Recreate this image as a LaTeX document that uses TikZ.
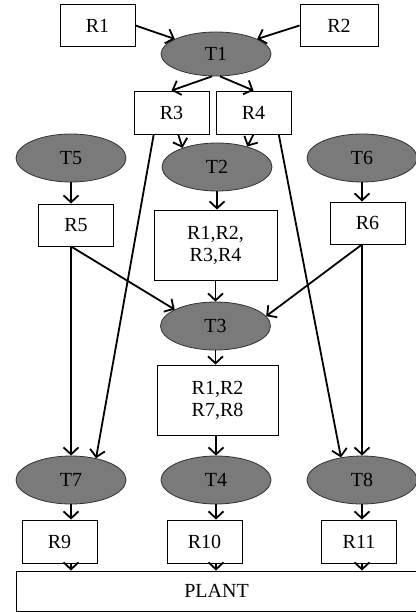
\documentclass[tikz,border=0pt]{standalone}
\usepackage{fontspec}
\setmainfont{Liberation Serif}
\usepackage{tikz}
\usetikzlibrary{arrows.meta,shapes}
\tikzstyle{res}=[rectangle, draw=black, fill=white,% resource box
line width=0.9pt,minimum width=75pt,minimum height=42pt,inner sep=0pt]
\tikzstyle{task}=[ellipse, draw=black!80, fill=black!52,% shaded task
line width=0.8pt,minimum width=110pt,minimum height=48pt,inner sep=0pt]
\tikzstyle{dgraph}=[-{Straight Barb[length=7pt,width=15pt]}, line width=1.8pt]

\begin{document}
\begin{tikzpicture}[x=1pt,y=-1pt,dgraph,font=\fontsize{20}{22}\selectfont]
\useasboundingbox (0,0) rectangle (415,612);

\node[res] (R1) at (97.5,25.5) {R1};
\node[res,minimum width=78pt] (R2) at (339,25.5) {R2};
\node[task,minimum height=44pt] (T1) at (216,54) {T1};

\node[res,minimum height=43pt] (R3) at (171.5,112.5) {R3};
\node[res,minimum height=43pt] (R4) at (253.5,112.5) {R4};

\node[task] (T5) at (71,158) {T5};
\node[task] (T2) at (217,167) {T2};
\node[task] (T6) at (362,158) {T6};

\node[res] (R5) at (76,225) {R5};
\node[res,minimum width=123pt,minimum height=70pt,align=center] (r1234) at (215.5,245) {R1,R2,\\R3,R4};
\node[res] (R6) at (367.5,223) {R6};

\node[task] (T3) at (215.5,326) {T3};
\node[res,minimum width=121pt,minimum height=70pt,align=center] (r1278) at (217.5,400) {R1,R2\\R7,R8};

\node[task] (T7) at (71,480) {T7};
\node[task] (T4) at (216,480) {T4};
\node[task] (T8) at (362,480) {T8};

\node[res,minimum height=43pt] (R9) at (59.5,541.5) {R9};
\node[res,minimum height=43pt] (R10) at (204.5,541.5) {R10};
\node[res,minimum height=43pt] (R11) at (359,541.5) {R11};

\node[res,minimum width=401pt,minimum height=40pt] (plant) at (216.5,591) {PLANT};

\draw (R1.east) -- (T1.160);
\draw (R2.west) -- (T1.20);
\draw (T1.260) -- (R3.north);
\draw (T1.280) -- (R4.north);

\draw (R3.287) -- (T2.151);
\draw (R4.south) -- (T2.34);
\draw (R3.231) -- (T7.41);
\draw (R4.319) -- (T8.133);

\draw (T5.south) -- (T5.south |- R5.north);
\draw (T6.south) -- (T6.south |- R6.north);
\draw (T2.south) -- (T2.south |- r1234.north);
\draw (T3.north |- r1234.south) -- (T3.north);

\draw (T7.north |- R5.south) -- (T3.158);
\draw (T8.north |- R6.south) -- (T3.11);
\draw (T7.north |- R5.south) -- (T7.north);
\draw (T8.north |- R6.south) -- (T8.north);

\draw (T3.south) -- (T3.south |- r1278.north);
\draw (T4.north |- r1278.south) -- (T4.north);

\draw (T7.south) -- (T7.south |- R9.north);
\draw (T4.south) -- (T4.south |- R10.north);
\draw (T8.south) -- (T8.south |- R11.north);

\draw (T7.south |- R9.south) -- (T7.south |- plant.north);
\draw (T4.south |- R10.south) -- (T4.south |- plant.north);
\draw (T8.south |- R11.south) -- (T8.south |- plant.north);

\end{tikzpicture}
\end{document}
